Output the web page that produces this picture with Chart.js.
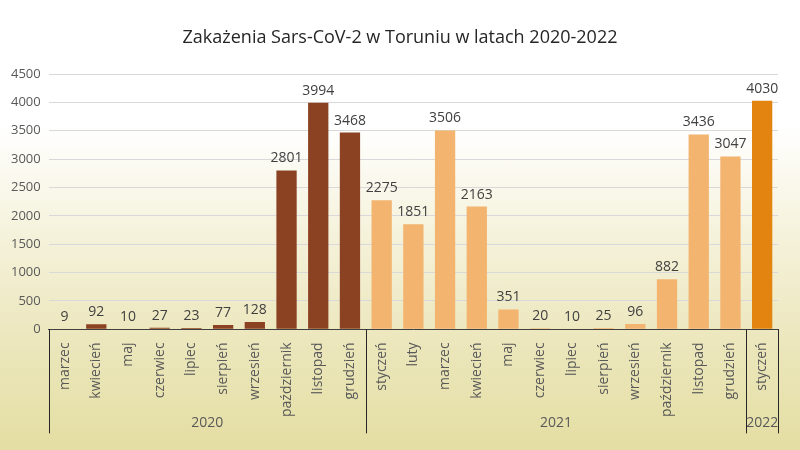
<!DOCTYPE html>
<html>
<head>
<meta charset="utf-8">
<script src="https://cdn.jsdelivr.net/npm/chart.js@4.4.1/dist/chart.umd.min.js"></script>
<style>
    html, body { margin: 0; padding: 0; }
    body {
        width: 800px;
        height: 450px;
        background: linear-gradient(to bottom, #ffffff 0%, #ffffff 28%, #f6f3de 50%, #ece7bd 75%, #e4dea3 100%);
    }
    #wrap { position: relative; width: 800px; height: 450px; }
    #title {
        position: absolute; left: 0; top: 24px; width: 800px;
        text-align: center;
        font: 18px "Open Sans";
        color: #262626;
    }
</style>
</head>
<body>
<div id="wrap">
    <div id="title">Zakażenia Sars-CoV-2 w Toruniu w latach 2020-2022</div>
    <canvas id="casesChart"></canvas>
</div>
<script>
const months = [
    "marzec", "kwiecień", "maj", "czerwiec", "lipiec", "sierpień", "wrzesień", "październik", "listopad", "grudzień",
    "styczeń", "luty", "marzec", "kwiecień", "maj", "czerwiec", "lipiec", "sierpień", "wrzesień", "październik", "listopad", "grudzień",
    "styczeń"
];
const cases = [9, 92, 10, 27, 23, 77, 128, 2801, 3994, 3468, 2275, 1851, 3506, 2163, 351, 20, 10, 25, 96, 882, 3436, 3047, 4030];
const years = ["2020", "2021", "2022"];
const monthsPerYear = [10, 12, 1];
const yearColors = ["#8B4222", "#F2B46E", "#E2840F"];
const yMax = 4500;
const yStep = 500;

// kolor słupka wg roku
const barColors = [];
years.forEach((y, i) => {
    for (let k = 0; k < monthsPerYear[i]; k++) barColors.push(yearColors[i]);
});

// etykiety wartości nad słupkami
const valueLabels = {
    id: 'valueLabels',
    afterDatasetsDraw(chart) {
        const ctx = chart.ctx;
        const meta = chart.getDatasetMeta(0);
        ctx.save();
        ctx.font = '14px "Open Sans"';
        ctx.fillStyle = '#404040';
        ctx.textAlign = 'center';
        ctx.textBaseline = 'bottom';
        meta.data.forEach((bar, i) => {
            ctx.fillText(cases[i], bar.x, bar.y - 5);
        });
        ctx.restore();
    }
};

// podpisy lat i linie podziału pod osią
const yearGroups = {
    id: 'yearGroups',
    afterDraw(chart) {
        const ctx = chart.ctx;
        const x = chart.scales.x;
        const bottom = chart.chartArea.bottom;
        const half = (x.getPixelForValue(1) - x.getPixelForValue(0)) / 2;
        ctx.save();
        ctx.strokeStyle = '#262626';
        ctx.lineWidth = 1;
        ctx.font = '14px "Open Sans"';
        ctx.fillStyle = '#595959';
        ctx.textAlign = 'center';
        ctx.textBaseline = 'middle';
        let start = 0;
        const edges = [x.getPixelForValue(0) - half];
        monthsPerYear.forEach((n, i) => {
            const left = x.getPixelForValue(start) - half;
            const right = x.getPixelForValue(start + n - 1) + half;
            edges.push(right);
            ctx.fillText(years[i], (left + right) / 2, bottom + 94);
            start += n;
        });
        edges.forEach(px => {
            const xx = Math.round(px) + 0.5;
            ctx.beginPath();
            ctx.moveTo(xx, bottom);
            ctx.lineTo(xx, bottom + 104);
            ctx.stroke();
        });
        ctx.restore();
    }
};

const ctx = document.getElementById('casesChart').getContext('2d');
new Chart(ctx, {
    type: 'bar',
    data: {
        labels: months,
        datasets: [{
            data: cases,
            backgroundColor: barColors,
            barPercentage: 0.64,
            categoryPercentage: 1.0
        }]
    },
    options: {
        responsive: true,
        maintainAspectRatio: false,
        animation: false,
        layout: { padding: { top: 74, right: 22, bottom: 28, left: 3 } },
        plugins: {
            legend: { display: false },
            tooltip: { enabled: false },
            title: { display: false }
        },
        scales: {
            x: {
                grid: { display: false },
                border: { color: '#404040' },
                ticks: {
                    color: '#595959',
                    font: { family: '"Open Sans"', size: 14 },
                    minRotation: 90,
                    maxRotation: 90,
                    autoSkip: false,
                    padding: 5
                }
            },
            y: {
                min: 0,
                max: yMax,
                border: { display: false },
                grid: { color: '#d9d9d9', drawTicks: false },
                ticks: {
                    stepSize: yStep,
                    color: '#595959',
                    font: { family: '"Open Sans"', size: 13 },
                    padding: 8,
                    callback: v => String(v)
                }
            }
        }
    },
    plugins: [valueLabels, yearGroups]
});
</script>
</body>
</html>
